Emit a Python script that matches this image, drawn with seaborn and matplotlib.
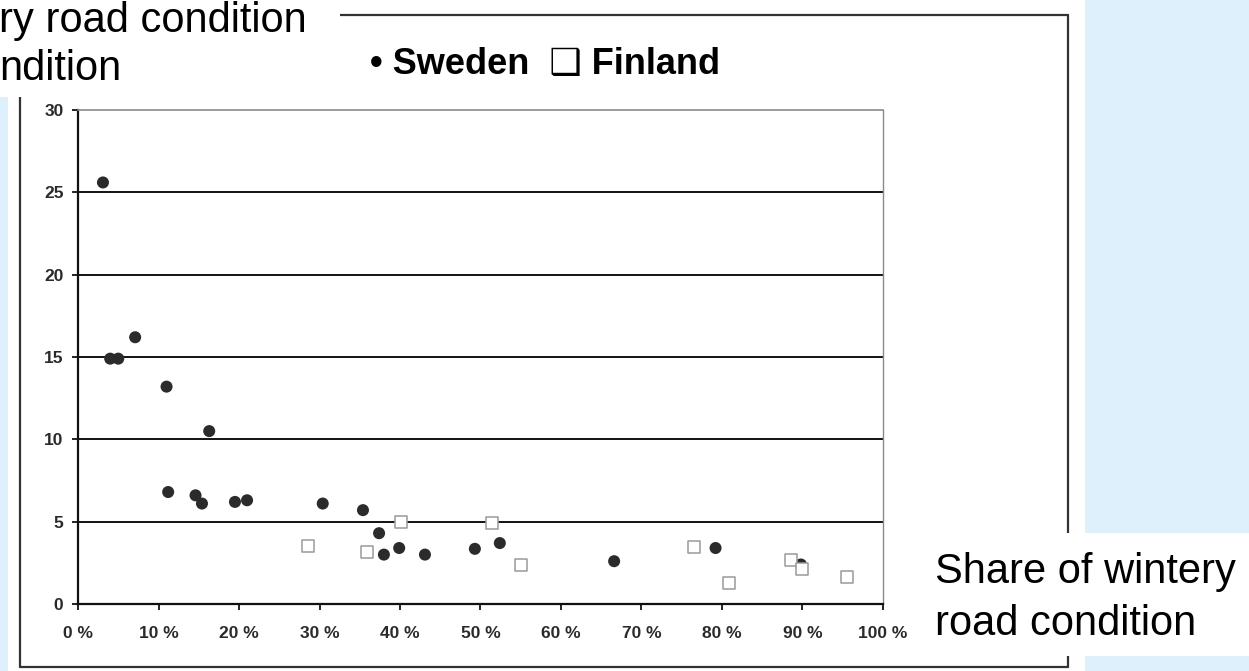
import pandas as pd
import matplotlib.pyplot as plt
import seaborn as sns
from matplotlib.patches import Rectangle
from matplotlib.lines import Line2D

# Share of wintery road condition (%) and value
sweden_share = [3.1, 4.0, 5.0, 7.1, 11.0, 16.3, 11.2, 14.6, 15.4, 19.5, 21.0,
                30.4, 35.4, 37.4, 38.0, 39.9, 43.1, 49.3, 52.4, 66.6, 79.2, 89.8]
sweden_value = [25.6, 14.9, 14.9, 16.2, 13.2, 10.5, 6.8, 6.6, 6.1, 6.2, 6.3,
                6.1, 5.7, 4.3, 3.0, 3.4, 3.0, 3.35, 3.7, 2.6, 3.4, 2.4]

finland_share = [28.6, 35.9, 40.1, 51.4, 55.0, 76.5, 80.9, 88.6, 90.0, 95.5]
finland_value = [3.55, 3.15, 5.0, 4.9, 2.35, 3.45, 1.25, 2.65, 2.15, 1.65]

x_ticks = [0, 10, 20, 30, 40, 50, 60, 70, 80, 90, 100]
y_ticks = [0, 5, 10, 15, 20, 25, 30]

W, H = 1249, 671


def fx(px):
    return px / W


def fy(py):
    return 1 - py / H


def main():
    sns.set_theme(style="white")
    plt.rcParams['font.family'] = ['Liberation Sans', 'DejaVu Sans']

    sweden = pd.DataFrame({'share': sweden_share, 'value': sweden_value})
    finland = pd.DataFrame({'share': finland_share, 'value': finland_value})

    fig = plt.figure(figsize=(W / 100, H / 100), dpi=100, facecolor='#ddf0fc')

    # white slide panel, frame, and text boxes
    fig.add_artist(Rectangle((fx(8), 0), fx(1085) - fx(8), 1, transform=fig.transFigure,
                             facecolor='white', edgecolor='none', zorder=-3))
    frame_kw = dict(transform=fig.transFigure, color='#333333', linewidth=1.6, zorder=-2)
    fig.add_artist(Line2D([fx(20), fx(1068)], [fy(15), fy(15)], **frame_kw))
    fig.add_artist(Line2D([fx(1068), fx(1068)], [fy(15), fy(667)], **frame_kw))
    fig.add_artist(Line2D([fx(20), fx(1068)], [fy(667), fy(667)], **frame_kw))
    fig.add_artist(Line2D([fx(20), fx(20)], [fy(15), fy(667)], **frame_kw))
    fig.add_artist(Rectangle((0, fy(97)), fx(340), 1 - fy(97), transform=fig.transFigure,
                             facecolor='white', edgecolor='none', zorder=-1))
    fig.add_artist(Rectangle((fx(920), fy(656)), 1 - fx(920), fy(533) - fy(656),
                             transform=fig.transFigure,
                             facecolor='white', edgecolor='none', zorder=-1))

    # cut-off title lines at top left
    fig.text(fx(307), fy(32), 'ry road condition', ha='right', va='baseline',
             fontsize=30, color='black')
    fig.text(fx(122), fy(80), 'ndition', ha='right', va='baseline',
             fontsize=30, color='black')

    # legend text
    fig.text(fx(370), fy(74), '\u2022 Sweden  \u2751 Finland', ha='left', va='baseline',
             fontsize=26, fontweight='bold', color='black')

    # x axis title at right
    fig.text(fx(935), fy(583), 'Share of wintery', ha='left', va='baseline',
             fontsize=30, color='black')
    fig.text(fx(935), fy(635), 'road condition', ha='left', va='baseline',
             fontsize=30, color='black')

    ax = fig.add_axes([fx(78), fy(604), fx(883) - fx(78), fy(110) - fy(604)])
    ax.set_facecolor('white')

    sns.scatterplot(data=sweden, x='share', y='value', ax=ax, marker='o', s=75,
                    color='#2b2b2b', edgecolor='none', zorder=4)
    sns.scatterplot(data=finland, x='share', y='value', ax=ax, marker='s', s=75,
                    facecolor='white', edgecolor='#9a9a9a', linewidth=1.1, zorder=5)

    ax.set_xlim(0, 100)
    ax.set_ylim(0, 30)
    ax.set_xticks(x_ticks)
    ax.set_xticklabels([f'{v} %' for v in x_ticks])
    ax.set_yticks(y_ticks)
    ax.set_yticklabels([str(v) for v in y_ticks])
    ax.set_xlabel('')
    ax.set_ylabel('')

    for v in y_ticks[1:-1]:
        ax.axhline(v, color='#111111', linewidth=1.4, zorder=1)

    ax.spines['left'].set_color('#111111')
    ax.spines['left'].set_linewidth(1.6)
    ax.spines['bottom'].set_color('#111111')
    ax.spines['bottom'].set_linewidth(1.6)
    ax.spines['top'].set_color('#8a8a8a')
    ax.spines['top'].set_linewidth(1.2)
    ax.spines['right'].set_color('#8a8a8a')
    ax.spines['right'].set_linewidth(1.0)

    ax.tick_params(axis='y', which='major', direction='out', length=4.5, width=1.3,
                   color='#111111', left=True, pad=6, labelsize=12.5, labelcolor='#2a2a2a')
    ax.tick_params(axis='x', which='major', direction='out', length=4.5, width=1.3,
                   color='#111111', bottom=True, pad=11, labelsize=12.5, labelcolor='#2a2a2a')
    for lab in ax.get_xticklabels() + ax.get_yticklabels():
        lab.set_fontweight('bold')

    fig.savefig('out.png', dpi=100, facecolor=fig.get_facecolor())


if __name__ == '__main__':
    main()
